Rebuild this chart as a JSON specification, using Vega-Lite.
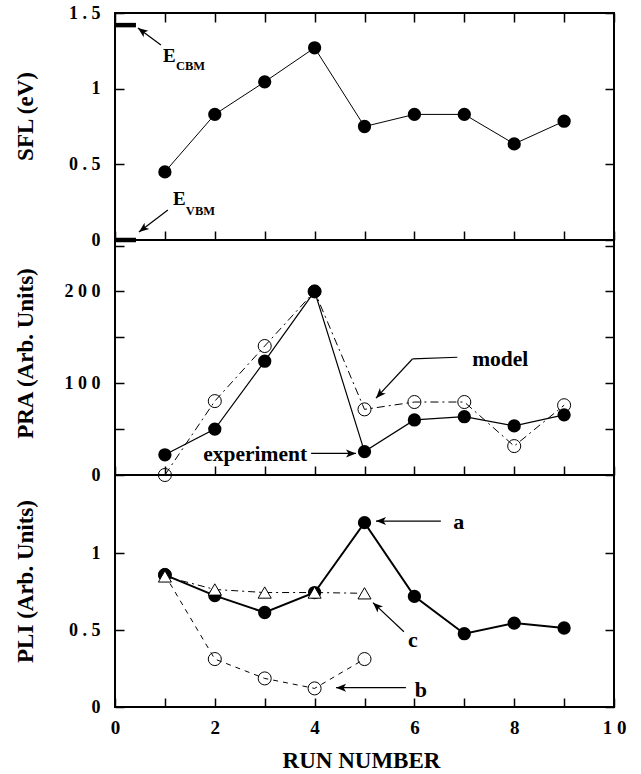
{
  "$schema": "https://vega.github.io/schema/vega-lite/v6.json",
  "background": "white",
  "padding": {"left": 12, "top": 3, "right": 5, "bottom": 5},
  "bounds": "flush",
  "spacing": 0,
  "config": {
    "view": {"stroke": "black", "strokeWidth": 2},
    "axis": {
      "grid": false, "domain": false, "ticks": true,
      "tickColor": "black", "tickWidth": 1.5, "tickSize": -9,
      "labelFont": "Liberation Serif", "labelFontWeight": "bold", "labelFontSize": 18, "labelColor": "black",
      "labelPadding": 24, "labelFlush": false, "labelOverlap": false,
      "titleFont": "Liberation Serif", "titleFontWeight": "bold", "titleFontSize": 23, "titleColor": "black"
    }
  },
  "datasets": {
    "sfl": [
      {"run": 1, "sfl": 0.45}, {"run": 2, "sfl": 0.83}, {"run": 3, "sfl": 1.045},
      {"run": 4, "sfl": 1.27}, {"run": 5, "sfl": 0.75}, {"run": 6, "sfl": 0.83},
      {"run": 7, "sfl": 0.83}, {"run": 8, "sfl": 0.635}, {"run": 9, "sfl": 0.785}
    ],
    "pra": [
      {"run": 1, "value": 22, "series": "experiment"}, {"run": 2, "value": 50, "series": "experiment"},
      {"run": 3, "value": 124, "series": "experiment"}, {"run": 4, "value": 200, "series": "experiment"},
      {"run": 5, "value": 25.5, "series": "experiment"}, {"run": 6, "value": 60, "series": "experiment"},
      {"run": 7, "value": 63.5, "series": "experiment"}, {"run": 8, "value": 53.5, "series": "experiment"},
      {"run": 9, "value": 65.5, "series": "experiment"},
      {"run": 1, "value": 0, "series": "model"}, {"run": 2, "value": 80.5, "series": "model"},
      {"run": 3, "value": 140.5, "series": "model"}, {"run": 4, "value": 200, "series": "model"},
      {"run": 5, "value": 71.5, "series": "model"}, {"run": 6, "value": 79.5, "series": "model"},
      {"run": 7, "value": 79.5, "series": "model"}, {"run": 8, "value": 31.5, "series": "model"},
      {"run": 9, "value": 76, "series": "model"}
    ],
    "pli": [
      {"run": 1, "value": 0.86, "series": "a"}, {"run": 2, "value": 0.725, "series": "a"},
      {"run": 3, "value": 0.615, "series": "a"}, {"run": 4, "value": 0.745, "series": "a"},
      {"run": 5, "value": 1.2, "series": "a"}, {"run": 6, "value": 0.72, "series": "a"},
      {"run": 7, "value": 0.477, "series": "a"}, {"run": 8, "value": 0.546, "series": "a"},
      {"run": 9, "value": 0.514, "series": "a"},
      {"run": 1, "value": 0.86, "series": "b"}, {"run": 2, "value": 0.312, "series": "b"},
      {"run": 3, "value": 0.186, "series": "b"}, {"run": 4, "value": 0.121, "series": "b"},
      {"run": 5, "value": 0.312, "series": "b"},
      {"run": 1, "value": 0.85, "series": "c"}, {"run": 2, "value": 0.765, "series": "c"},
      {"run": 3, "value": 0.745, "series": "c"}, {"run": 4, "value": 0.745, "series": "c"},
      {"run": 5, "value": 0.74, "series": "c"}
    ],
    "levels": [
      {"level": "CBM", "x0": 0, "x1": 0.42, "y": 1.42},
      {"level": "VBM", "x0": 0, "x1": 0.42, "y": 0}
    ],
    "arrows": [
      {"panel": "SFL", "id": "CBM", "x": 0.92, "y": 1.289, "x2": 0.46, "y2": 1.401},
      {"panel": "SFL", "id": "VBM", "x": 1.06, "y": 0.198, "x2": 0.48, "y2": 0.053},
      {"panel": "PRA", "id": "model1", "x": 6.86, "y": 128.3, "x2": 5.96, "y2": 126.4},
      {"panel": "PRA", "id": "model", "x": 5.96, "y": 126.4, "x2": 5.23, "y2": 83.7},
      {"panel": "PRA", "id": "experiment", "x": 3.93, "y": 23.5, "x2": 4.83, "y2": 23.5},
      {"panel": "PLI", "id": "a", "x": 6.53, "y": 1.21, "x2": 5.23, "y2": 1.21},
      {"panel": "PLI", "id": "b", "x": 5.83, "y": 0.126, "x2": 4.43, "y2": 0.126},
      {"panel": "PLI", "id": "c", "x": 5.79, "y": 0.49, "x2": 5.17, "y2": 0.679}
    ],
    "notes": [
      {"panel": "SFL", "kind": "main", "label": "E", "x": 0.96, "y": 1.176},
      {"panel": "SFL", "kind": "sub", "label": "CBM", "x": 1.22, "y": 1.123},
      {"panel": "SFL", "kind": "main", "label": "E", "x": 1.16, "y": 0.231},
      {"panel": "SFL", "kind": "sub", "label": "VBM", "x": 1.42, "y": 0.165},
      {"panel": "PRA", "kind": "main", "label": "model", "x": 7.72, "y": 125.3},
      {"panel": "PRA", "kind": "main", "label": "experiment", "x": 2.81, "y": 22.1},
      {"panel": "PLI", "kind": "main", "label": "a", "x": 6.89, "y": 1.206},
      {"panel": "PLI", "kind": "main", "label": "b", "x": 6.13, "y": 0.113},
      {"panel": "PLI", "kind": "main", "label": "c", "x": 5.97, "y": 0.438}
    ]
  },
  "vconcat": [
    {
      "width": 499, "height": 227,
      "resolve": {"axis": {"x": "independent", "y": "independent"}},
      "layer": [
        {
          "data": {"name": "sfl"},
          "mark": {"type": "line", "color": "black", "strokeWidth": 1},
          "encoding": {
            "x": {"field": "run", "type": "quantitative", "scale": {"domain": [0, 10], "nice": false},
                  "axis": {"orient": "bottom", "values": [0,1,2,3,4,5,6,7,8,9,10], "labels": false, "title": null}},
            "y": {"field": "sfl", "type": "quantitative", "scale": {"domain": [0, 1.5], "nice": false},
                  "axis": {"orient": "left", "values": [0, 0.5, 1, 1.5], "format": ".1~f",
                           "labelExpr": "join(split(datum.label, ''), ' ')",
                           "title": "SFL (eV)", "titleX": -90, "titleY": 103, "titleBaseline": "middle"}}
          }
        },
        {
          "data": {"name": "sfl"},
          "mark": {"type": "point", "shape": "circle", "filled": true, "color": "black", "opacity": 1, "size": 177},
          "encoding": {
            "x": {"field": "run", "type": "quantitative",
                  "axis": {"orient": "top", "values": [0,1,2,3,4,5,6,7,8,9,10], "labels": false, "title": null}},
            "y": {"field": "sfl", "type": "quantitative",
                  "axis": {"orient": "right", "values": [0, 0.5, 1, 1.5], "labels": false, "title": null}}
          }
        },
        {
          "data": {"name": "levels"},
          "mark": {"type": "rule", "color": "black", "strokeWidth": 4.5},
          "encoding": {
            "x": {"field": "x0", "type": "quantitative", "axis": null},
            "x2": {"field": "x1"},
            "y": {"field": "y", "type": "quantitative", "axis": null}
          }
        },
        {
          "data": {"name": "arrows"},
          "transform": [{"filter": "datum.panel === 'SFL'"}],
          "mark": {"type": "rule", "color": "black", "strokeWidth": 1.2},
          "encoding": {
            "x": {"field": "x", "type": "quantitative", "axis": null},
            "y": {"field": "y", "type": "quantitative", "axis": null},
            "x2": {"field": "x2"}, "y2": {"field": "y2"}
          }
        },
        {
          "data": {"name": "arrows"},
          "transform": [{"filter": "datum.id === 'CBM'"}],
          "mark": {"type": "point", "shape": "M0,0L-0.4,1L0,0.75L0.4,1Z", "filled": true, "color": "black", "opacity": 1, "size": 400, "angle": 306.5},
          "encoding": {
            "x": {"field": "x2", "type": "quantitative", "axis": null},
            "y": {"field": "y2", "type": "quantitative", "axis": null}
          }
        },
        {
          "data": {"name": "arrows"},
          "transform": [{"filter": "datum.id === 'VBM'"}],
          "mark": {"type": "point", "shape": "M0,0L-0.4,1L0,0.75L0.4,1Z", "filled": true, "color": "black", "opacity": 1, "size": 400, "angle": 232.8},
          "encoding": {
            "x": {"field": "x2", "type": "quantitative", "axis": null},
            "y": {"field": "y2", "type": "quantitative", "axis": null}
          }
        },
        {
          "data": {"name": "notes"},
          "transform": [{"filter": "datum.panel === 'SFL' && datum.kind === 'main'"}],
          "mark": {"type": "text", "font": "Liberation Serif", "fontWeight": "bold", "fontSize": 19, "align": "left", "baseline": "alphabetic", "color": "black"},
          "encoding": {
            "x": {"field": "x", "type": "quantitative", "axis": null},
            "y": {"field": "y", "type": "quantitative", "axis": null},
            "text": {"field": "label"}
          }
        },
        {
          "data": {"name": "notes"},
          "transform": [{"filter": "datum.panel === 'SFL' && datum.kind === 'sub'"}],
          "mark": {"type": "text", "font": "Liberation Serif", "fontWeight": "bold", "fontSize": 12.5, "align": "left", "baseline": "alphabetic", "color": "black"},
          "encoding": {
            "x": {"field": "x", "type": "quantitative", "axis": null},
            "y": {"field": "y", "type": "quantitative", "axis": null},
            "text": {"field": "label"}
          }
        }
      ]
    },
    {
      "width": 499, "height": 235,
      "resolve": {"axis": {"x": "independent", "y": "independent"}},
      "layer": [
        {
          "data": {"name": "pra"},
          "transform": [{"filter": "datum.series === 'experiment'"}],
          "mark": {"type": "line", "color": "black", "strokeWidth": 1.2},
          "encoding": {
            "x": {"field": "run", "type": "quantitative", "scale": {"domain": [0, 10], "nice": false},
                  "axis": {"orient": "bottom", "values": [0,1,2,3,4,5,6,7,8,9,10], "labels": false, "title": null}},
            "y": {"field": "value", "type": "quantitative", "scale": {"domain": [0, 256], "nice": false},
                  "axis": {"orient": "left", "values": [0, 50, 100, 150, 200, 250],
                           "labelExpr": "datum.value % 100 === 0 ? join(split(datum.label, ''), ' ') : ''",
                           "title": "PRA (Arb. Units)", "titleX": -90, "titleY": 113, "titleBaseline": "middle"}}
          }
        },
        {
          "data": {"name": "pra"},
          "transform": [{"filter": "datum.series === 'model'"}],
          "mark": {"type": "line", "color": "black", "strokeWidth": 1, "strokeDash": [8, 4, 2, 4]},
          "encoding": {
            "x": {"field": "run", "type": "quantitative", "axis": null},
            "y": {"field": "value", "type": "quantitative", "axis": null}
          }
        },
        {
          "data": {"name": "pra"},
          "transform": [{"filter": "datum.series === 'model'"}],
          "mark": {"type": "point", "shape": "circle", "filled": false, "color": "black", "opacity": 1, "strokeWidth": 1, "size": 170},
          "encoding": {
            "x": {"field": "run", "type": "quantitative", "axis": null},
            "y": {"field": "value", "type": "quantitative",
                  "axis": {"orient": "right", "values": [0, 50, 100, 150, 200, 250], "labels": false, "title": null}}
          }
        },
        {
          "data": {"name": "pra"},
          "transform": [{"filter": "datum.series === 'experiment'"}],
          "mark": {"type": "point", "shape": "circle", "filled": true, "color": "black", "opacity": 1, "size": 177},
          "encoding": {
            "x": {"field": "run", "type": "quantitative", "axis": null},
            "y": {"field": "value", "type": "quantitative", "axis": null}
          }
        },
        {
          "data": {"name": "arrows"},
          "transform": [{"filter": "datum.panel === 'PRA'"}],
          "mark": {"type": "rule", "color": "black", "strokeWidth": 1.2},
          "encoding": {
            "x": {"field": "x", "type": "quantitative", "axis": null},
            "y": {"field": "y", "type": "quantitative", "axis": null},
            "x2": {"field": "x2"}, "y2": {"field": "y2"}
          }
        },
        {
          "data": {"name": "arrows"},
          "transform": [{"filter": "datum.id === 'model'"}],
          "mark": {"type": "point", "shape": "M0,0L-0.4,1L0,0.75L0.4,1Z", "filled": true, "color": "black", "opacity": 1, "size": 400, "angle": 223},
          "encoding": {
            "x": {"field": "x2", "type": "quantitative", "axis": null},
            "y": {"field": "y2", "type": "quantitative", "axis": null}
          }
        },
        {
          "data": {"name": "arrows"},
          "transform": [{"filter": "datum.id === 'experiment'"}],
          "mark": {"type": "point", "shape": "M0,0L-0.4,1L0,0.75L0.4,1Z", "filled": true, "color": "black", "opacity": 1, "size": 400, "angle": 90},
          "encoding": {
            "x": {"field": "x2", "type": "quantitative", "axis": null},
            "y": {"field": "y2", "type": "quantitative", "axis": null}
          }
        },
        {
          "data": {"name": "notes"},
          "transform": [{"filter": "datum.panel === 'PRA'"}],
          "mark": {"type": "text", "font": "Liberation Serif", "fontWeight": "bold", "fontSize": 21.5, "align": "center", "baseline": "middle", "color": "black"},
          "encoding": {
            "x": {"field": "x", "type": "quantitative", "axis": null},
            "y": {"field": "y", "type": "quantitative", "axis": null},
            "text": {"field": "label"}
          }
        }
      ]
    },
    {
      "width": 499, "height": 232,
      "resolve": {"axis": {"x": "independent", "y": "independent"}},
      "layer": [
        {
          "data": {"name": "pli"},
          "transform": [{"filter": "datum.series === 'a'"}],
          "mark": {"type": "line", "color": "black", "strokeWidth": 2},
          "encoding": {
            "x": {"field": "run", "type": "quantitative", "scale": {"domain": [0, 10], "nice": false},
                  "axis": {"orient": "bottom", "values": [0,1,2,3,4,5,6,7,8,9,10],
                           "labelExpr": "datum.value % 2 === 0 ? join(split(datum.label, ''), ' ') : ''",
                           "labelFontSize": 19, "labelPadding": 20,
                           "title": "RUN NUMBER", "titleX": 246, "titleY": 60, "titleBaseline": "alphabetic"}},
            "y": {"field": "value", "type": "quantitative", "scale": {"domain": [0, 1.51], "nice": false},
                  "axis": {"orient": "left", "values": [0, 0.5, 1], "format": ".1~f",
                           "labelExpr": "join(split(datum.label, ''), ' ')",
                           "title": "PLI (Arb. Units)", "titleX": -90, "titleY": 106, "titleBaseline": "middle"}}
          }
        },
        {
          "data": {"name": "pli"},
          "transform": [{"filter": "datum.series === 'b'"}],
          "mark": {"type": "line", "color": "black", "strokeWidth": 1, "strokeDash": [5, 5]},
          "encoding": {
            "x": {"field": "run", "type": "quantitative", "axis": null},
            "y": {"field": "value", "type": "quantitative", "axis": null}
          }
        },
        {
          "data": {"name": "pli"},
          "transform": [{"filter": "datum.series === 'c'"}],
          "mark": {"type": "line", "color": "black", "strokeWidth": 1, "strokeDash": [7, 4, 2, 4]},
          "encoding": {
            "x": {"field": "run", "type": "quantitative", "axis": null},
            "y": {"field": "value", "type": "quantitative", "axis": null}
          }
        },
        {
          "data": {"name": "pli"},
          "transform": [{"filter": "datum.series === 'a'"}],
          "mark": {"type": "point", "shape": "circle", "filled": true, "color": "black", "opacity": 1, "size": 177},
          "encoding": {
            "x": {"field": "run", "type": "quantitative", "axis": null},
            "y": {"field": "value", "type": "quantitative", "axis": null}
          }
        },
        {
          "data": {"name": "pli"},
          "transform": [{"filter": "datum.series === 'b'"}],
          "mark": {"type": "point", "shape": "circle", "filled": false, "color": "black", "opacity": 1, "strokeWidth": 1, "size": 170},
          "encoding": {
            "x": {"field": "run", "type": "quantitative", "axis": null},
            "y": {"field": "value", "type": "quantitative", "axis": null}
          }
        },
        {
          "data": {"name": "pli"},
          "transform": [{"filter": "datum.series === 'c'"}],
          "mark": {"type": "point", "shape": "triangle-up", "filled": true, "fill": "white", "stroke": "black", "strokeWidth": 1, "opacity": 1, "size": 170},
          "encoding": {
            "x": {"field": "run", "type": "quantitative", "axis": null},
            "y": {"field": "value", "type": "quantitative",
                  "axis": {"orient": "right", "values": [0, 0.5, 1], "labels": false, "title": null}}
          }
        },
        {
          "data": {"name": "arrows"},
          "transform": [{"filter": "datum.panel === 'PLI'"}],
          "mark": {"type": "rule", "color": "black", "strokeWidth": 1.2},
          "encoding": {
            "x": {"field": "x", "type": "quantitative", "axis": null},
            "y": {"field": "y", "type": "quantitative", "axis": null},
            "x2": {"field": "x2"}, "y2": {"field": "y2"}
          }
        },
        {
          "data": {"name": "arrows"},
          "transform": [{"filter": "datum.id === 'a' || datum.id === 'b'"}],
          "mark": {"type": "point", "shape": "M0,0L-0.4,1L0,0.75L0.4,1Z", "filled": true, "color": "black", "opacity": 1, "size": 400, "angle": 270},
          "encoding": {
            "x": {"field": "x2", "type": "quantitative", "axis": null},
            "y": {"field": "y2", "type": "quantitative", "axis": null}
          }
        },
        {
          "data": {"name": "arrows"},
          "transform": [{"filter": "datum.id === 'c'"}],
          "mark": {"type": "point", "shape": "M0,0L-0.4,1L0,0.75L0.4,1Z", "filled": true, "color": "black", "opacity": 1, "size": 400, "angle": 313},
          "encoding": {
            "x": {"field": "x2", "type": "quantitative", "axis": null},
            "y": {"field": "y2", "type": "quantitative", "axis": null}
          }
        },
        {
          "data": {"name": "notes"},
          "transform": [{"filter": "datum.panel === 'PLI'"}],
          "mark": {"type": "text", "font": "Liberation Serif", "fontWeight": "bold", "fontSize": 22, "align": "center", "baseline": "middle", "color": "black"},
          "encoding": {
            "x": {"field": "x", "type": "quantitative", "axis": null},
            "y": {"field": "y", "type": "quantitative", "axis": null},
            "text": {"field": "label"}
          }
        }
      ]
    }
  ]
}
